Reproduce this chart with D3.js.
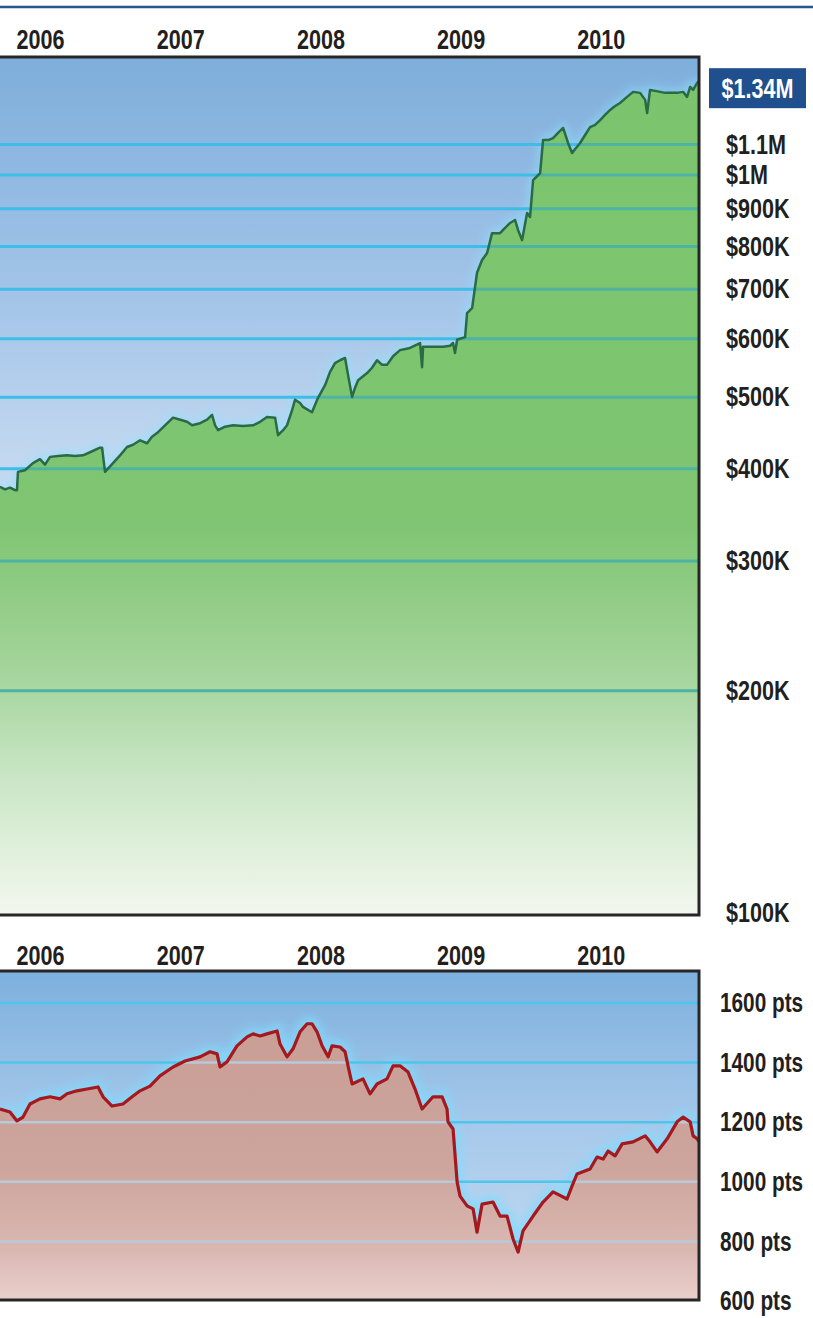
<!DOCTYPE html>
<html>
<head>
<meta charset="utf-8">
<script src="https://cdn.jsdelivr.net/npm/d3@7"></script>
<style>
  body { margin: 0; background: #fff; }
  svg { display: block; }
  .lbl {
    font-family: 'Liberation Sans', Arial, sans-serif;
    font-weight: bold;
    font-size: 27px;
    fill: #231f20;
  }
</style>
</head>
<body>
<svg id="chart" width="813" height="1318"></svg>
<script>
// ---- data ----
const years = [2006, 2007, 2008, 2009, 2010];

// account value, $K, log scale
const fundTicks = [100, 200, 300, 400, 500, 600, 700, 800, 900, 1000, 1100];
const fundTickLabels = ['$100K', '$200K', '$300K', '$400K', '$500K', '$600K', '$700K', '$800K', '$900K', '$1M', '$1.1M'];
const fundLastLabel = '$1.34M';
const fundDates = [2005.715, 2005.751, 2005.786, 2005.822, 2005.836, 2005.843, 2005.893, 2005.950,
  2006.000, 2006.036, 2006.072, 2006.129, 2006.193, 2006.250, 2006.307, 2006.357, 2006.428, 2006.443, 2006.464,
  2006.521, 2006.571, 2006.621, 2006.664, 2006.714, 2006.764, 2006.799, 2006.835, 2006.892, 2006.949,
  2007.000, 2007.049, 2007.085, 2007.142, 2007.192, 2007.227, 2007.249, 2007.270, 2007.320, 2007.377, 2007.448,
  2007.520, 2007.570, 2007.619, 2007.677, 2007.698, 2007.734, 2007.762, 2007.798, 2007.819, 2007.855, 2007.876,
  2007.940, 2007.983,
  2008.033, 2008.069, 2008.104, 2008.140, 2008.176, 2008.197, 2008.226, 2008.247, 2008.269, 2008.333, 2008.368,
  2008.404, 2008.440, 2008.475, 2008.518, 2008.568, 2008.639, 2008.711, 2008.725, 2008.732, 2008.803, 2008.875,
  2008.925, 2008.946, 2008.960, 2008.975,
  2009.032, 2009.046, 2009.082, 2009.117, 2009.153, 2009.189, 2009.224, 2009.281, 2009.317, 2009.353, 2009.388,
  2009.410, 2009.438, 2009.474, 2009.495, 2009.517, 2009.567, 2009.588, 2009.624, 2009.659, 2009.695, 2009.731,
  2009.766, 2009.795, 2009.823, 2009.852, 2009.888, 2009.923, 2009.959, 2009.995,
  2010.030, 2010.066, 2010.102, 2010.137, 2010.187, 2010.230, 2010.280, 2010.316, 2010.330, 2010.351, 2010.387,
  2010.423, 2010.458, 2010.494, 2010.544, 2010.587, 2010.615, 2010.637, 2010.658, 2010.687, 2010.700];
const fundValues = [378, 375, 377, 374, 374, 396, 398, 407,
  412, 405, 415, 416, 417, 416, 417, 421, 427, 427, 396,
  407, 417, 428, 431, 437, 433, 442, 447, 458, 469,
  466, 463, 458, 461, 466, 473, 458, 451, 456, 458, 457,
  458, 463, 470, 469, 444, 451, 458, 480, 496, 491, 485,
  477, 499,
  519, 541, 556, 561, 565, 536, 500, 515, 527, 539, 548,
  561, 553, 553, 568, 579, 583, 592, 549, 585, 585, 585,
  587, 592, 574, 598,
  603, 650, 660, 737, 767, 784, 834, 834, 848, 861, 869,
  842, 816, 888, 877, 984, 1006, 1115, 1115, 1122, 1140, 1158,
  1105, 1071, 1088, 1105, 1133, 1161, 1169, 1187,
  1206, 1225, 1240, 1252, 1276, 1296, 1292, 1264, 1213, 1304, 1300,
  1296, 1292, 1292, 1292, 1296, 1276, 1316, 1304, 1333, 1340];

// index, points
const spTicks = [600, 800, 1000, 1200, 1400, 1600];
const spDates = [2005.715, 2005.786, 2005.836, 2005.879, 2005.929,
  2006.000, 2006.072, 2006.143, 2006.193, 2006.264, 2006.336, 2006.414, 2006.450, 2006.514, 2006.592,
  2006.657, 2006.714, 2006.785, 2006.856, 2006.949,
  2007.035, 2007.142, 2007.213, 2007.263, 2007.284, 2007.334, 2007.405, 2007.477, 2007.520, 2007.570,
  2007.619, 2007.691, 2007.712, 2007.762, 2007.805, 2007.855, 2007.905, 2007.940, 2007.976,
  2008.012, 2008.055, 2008.083, 2008.140, 2008.176, 2008.197, 2008.226, 2008.304, 2008.354, 2008.404,
  2008.475, 2008.518, 2008.568, 2008.625, 2008.675, 2008.725, 2008.803, 2008.868, 2008.903, 2008.910,
  2008.946, 2008.975, 2008.996,
  2009.046, 2009.089, 2009.117, 2009.153, 2009.231, 2009.281, 2009.331, 2009.374, 2009.410, 2009.445,
  2009.517, 2009.588, 2009.659, 2009.759, 2009.795, 2009.830, 2009.923, 2009.973,
  2010.016, 2010.052, 2010.102, 2010.152, 2010.230, 2010.316, 2010.351, 2010.401, 2010.473, 2010.544,
  2010.587, 2010.637, 2010.658, 2010.687, 2010.700];
const spValues = [1244, 1234, 1204, 1217, 1261,
  1278, 1285, 1278, 1295, 1305, 1311, 1318, 1285, 1254, 1261,
  1285, 1305, 1321, 1355, 1385,
  1405, 1419, 1436, 1429, 1385, 1402, 1456, 1486, 1496, 1489,
  1496, 1506, 1462, 1419, 1446, 1503, 1530, 1530, 1503,
  1456, 1419, 1456, 1452, 1436, 1389, 1328, 1345, 1295, 1328,
  1345, 1389, 1389, 1368, 1311, 1244, 1285, 1285, 1244, 1201,
  1177, 999, 952,
  919, 909, 831, 925, 932, 885, 885, 808, 764, 835,
  885, 932, 966, 942, 986, 1026, 1043, 1083,
  1076, 1103, 1087, 1127, 1134, 1154, 1134, 1100, 1144, 1201,
  1217, 1201, 1154, 1144, 1135];

// ---- setup ----
const svg = d3.select('#chart');
const defs = svg.append('defs');
const width = 699;

const x = d3.scaleLinear().domain([2005.715, 2010.70]).range([0, width]);

function gradient(id, y1, y2, stops) {
  const g = defs.append('linearGradient').attr('id', id)
    .attr('gradientUnits', 'userSpaceOnUse')
    .attr('x1', 0).attr('x2', 0).attr('y1', y1).attr('y2', y2);
  g.selectAll('stop').data(stops).enter().append('stop')
    .attr('offset', d => d[0])
    .attr('stop-color', d => d[1]);
}

// condensed look: squeeze the bold face horizontally around its anchor
function condense(sel, k = 0.8) {
  sel.attr('class', 'lbl').each(function () {
    const x0 = +this.getAttribute('x') || 0;
    d3.select(this).attr('transform', `translate(${x0},0) scale(${k},1) translate(${-x0},0)`);
  });
}

defs.append('filter').attr('id', 'glow')
  .attr('filterUnits', 'userSpaceOnUse')
  .attr('x', -50).attr('y', 0).attr('width', 900).attr('height', 1318)
  .append('feGaussianBlur').attr('stdDeviation', 5);

// thin rule at the very top
svg.append('line')
  .attr('x1', 0).attr('x2', 813).attr('y1', 7).attr('y2', 7)
  .attr('stroke', '#25558f').attr('stroke-width', 2.5);

function drawPanel(p) {
  const data = p.dates.map((d, i) => ({ date: d, value: p.values[i] }));
  const g = svg.append('g');

  gradient(p.id + '-bg', p.top, p.bottom, p.bgStops);
  gradient(p.id + '-fill', p.top, p.bottom, p.fillStops);

  defs.append('clipPath').attr('id', p.id + '-frame').append('rect')
    .attr('x', 0).attr('y', p.top).attr('width', width).attr('height', p.bottom - p.top);

  const area = d3.area().x(d => x(d.date)).y0(p.bottom).y1(d => p.y(d.value));
  const line = d3.line().x(d => x(d.date)).y(d => p.y(d.value));

  const plot = g.append('g').attr('clip-path', `url(#${p.id}-frame)`);

  plot.append('rect')
    .attr('x', 0).attr('y', p.top).attr('width', width).attr('height', p.bottom - p.top)
    .attr('fill', `url(#${p.id}-bg)`);

  // soft halo along the curve
  plot.append('path').datum(data)
    .attr('d', line).attr('fill', 'none')
    .attr('stroke', p.glow).attr('stroke-width', p.glowWidth).attr('opacity', p.glowOpacity)
    .attr('filter', 'url(#glow)');

  const gridAbove = plot.append('g');
  gridAbove.selectAll('line').data(p.grid).enter().append('line')
    .attr('x1', 0).attr('x2', width)
    .attr('y1', d => p.y(d)).attr('y2', d => p.y(d))
    .attr('stroke', p.gridAbove).attr('stroke-width', p.gridWidth);

  plot.append('path').datum(data)
    .attr('d', area).attr('fill', `url(#${p.id}-fill)`);

  defs.append('clipPath').attr('id', p.id + '-area')
    .append('path').datum(data).attr('d', area);

  const gridBelow = plot.append('g').attr('clip-path', `url(#${p.id}-area)`);
  gridBelow.selectAll('line').data(p.grid).enter().append('line')
    .attr('x1', 0).attr('x2', width)
    .attr('y1', d => p.y(d)).attr('y2', d => p.y(d))
    .attr('stroke', p.gridBelow).attr('stroke-width', p.gridWidth);

  plot.append('path').datum(data)
    .attr('d', line).attr('fill', 'none')
    .attr('stroke', p.lineColor).attr('stroke-width', p.lineWidth)
    .attr('stroke-linejoin', 'round');

  // frame
  g.append('rect')
    .attr('x', -4).attr('y', p.top).attr('width', width + 4).attr('height', p.bottom - p.top)
    .attr('fill', 'none').attr('stroke', '#262626').attr('stroke-width', 3);

  // years along the top
  const xAxis = g.append('g')
    .attr('transform', `translate(0, ${p.yearY})`)
    .call(d3.axisTop(x).tickValues(years).tickFormat(d3.format('d')).tickSize(0).tickPadding(0));
  xAxis.select('.domain').remove();
  condense(xAxis.selectAll('text'));

  // values on the right
  const yAxis = g.append('g')
    .attr('transform', `translate(${width}, 0)`)
    .call(d3.axisRight(p.y).tickValues(p.ticks).tickFormat(p.format).tickSize(0).tickPadding(p.pad));
  yAxis.select('.domain').remove();
  condense(yAxis.selectAll('text'), p.squeeze);

  return data;
}

// ---- top panel: account value ----
const yFund = d3.scaleLog().domain([100, 1445]).range([913, 57]);

const fundData = drawPanel({
  id: 'fund', top: 57, bottom: 915, y: yFund, yearY: 49,
  dates: fundDates, values: fundValues,
  grid: fundTicks.slice(1),
  ticks: fundTicks, format: (d, i) => fundTickLabels[i], pad: 27, squeeze: 0.8,
  bgStops: [[0, '#7eaedb'], [0.3, '#a6c6e9'], [0.47, '#c3d8f0'], [1, '#dce8f5']],
  fillStops: [[0, '#7bc46c'], [0.54, '#7fc572'], [0.634, '#92cc86'], [0.74, '#aad7a2'],
    [0.82, '#c4e3bf'], [0.926, '#e0f0dc'], [1, '#f3f7ef']],
  glow: '#8ee3ff', glowWidth: 8, glowOpacity: 0.6,
  gridAbove: '#3fbde8', gridBelow: '#4db3a3', gridWidth: 3,
  lineColor: '#2a6a45', lineWidth: 2.5
});

// last value tag
const last = fundData[fundData.length - 1];
const tag = svg.append('g')
  .attr('transform', `translate(709, ${yFund(last.value) - 13})`);
tag.append('rect')
  .attr('width', 97).attr('height', 40)
  .attr('fill', '#1f4f8c');
condense(tag.append('text')
  .attr('x', 48.5).attr('y', 30)
  .attr('text-anchor', 'middle')
  .text(fundLastLabel));
tag.select('text').style('fill', '#fff');

// ---- bottom panel: index points ----
const ySp = d3.scaleLinear().domain([600, 1707]).range([1301, 971]);

drawPanel({
  id: 'sp', top: 971, bottom: 1300, y: ySp, yearY: 965,
  dates: spDates, values: spValues,
  grid: spTicks.slice(1),
  ticks: spTicks, format: d => d + ' pts', pad: 21, squeeze: 0.77,
  bgStops: [[0, '#7db0dd'], [0.5, '#a9caeb'], [1, '#c7dcf2']],
  fillStops: [[0, '#c79b92'], [0.6, '#cda59d'], [0.85, '#dab8b2'], [1, '#e9cfcb']],
  glow: '#7fdcff', glowWidth: 12, glowOpacity: 0.8,
  gridAbove: '#4cc6ea', gridBelow: '#b7cadb', gridWidth: 2.5,
  lineColor: '#a5181e', lineWidth: 3.2
});
</script>
</body>
</html>
